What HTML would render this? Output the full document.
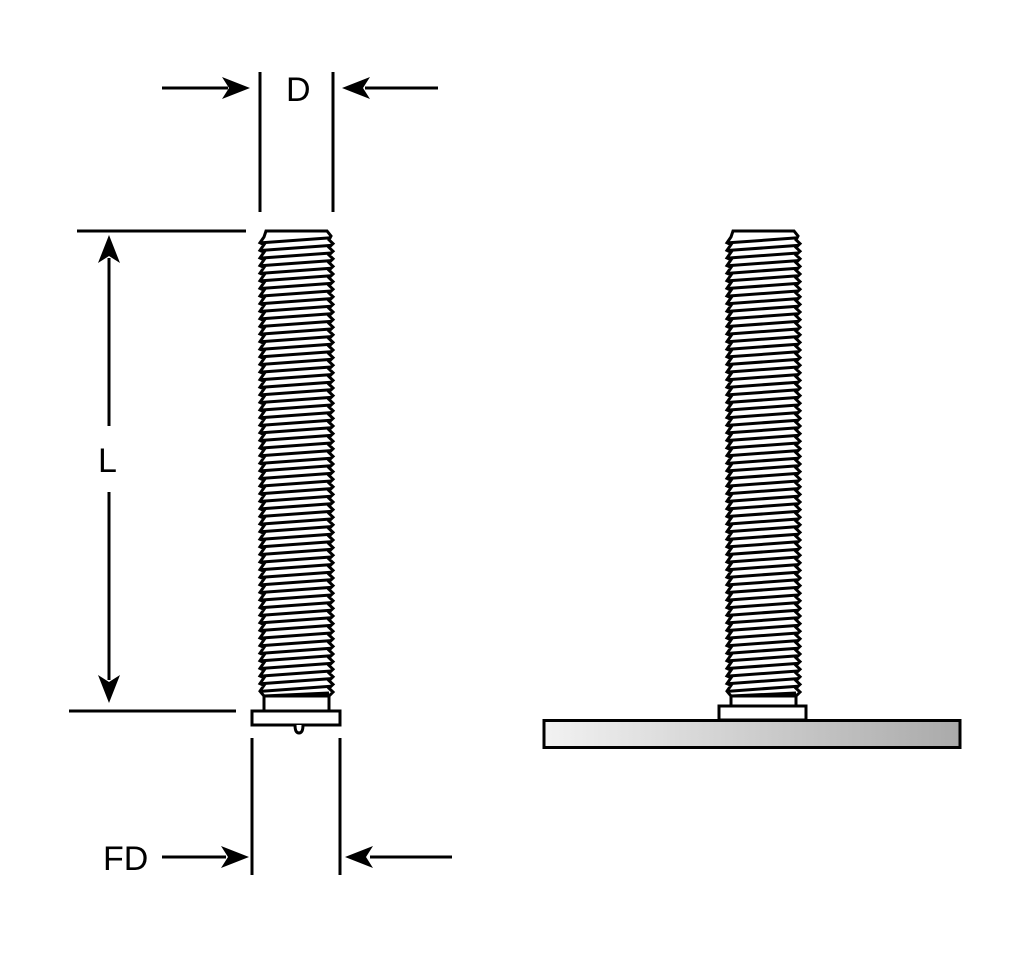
<!DOCTYPE html>
<html><head><meta charset="utf-8"><style>
html,body{margin:0;padding:0;background:#fff;width:1028px;height:964px;overflow:hidden}
svg{display:block}
text{font-family:"Liberation Sans",sans-serif;font-size:34px;fill:#000}
</style></head><body>
<svg id="s" width="1028" height="964" viewBox="0 0 1028 964" xmlns="http://www.w3.org/2000/svg">
<defs>
<linearGradient id="g" x1="0" x2="1" y1="0" y2="0"><stop offset="0" stop-color="#f2f2f2"/><stop offset="1" stop-color="#aaaaaa"/></linearGradient>
</defs>
<g stroke="#000" stroke-width="3" fill="none">
<!-- D dimension -->
<line x1="260" y1="72" x2="260" y2="212"/>
<line x1="333" y1="72" x2="333" y2="212"/>
<line x1="162" y1="88" x2="228" y2="88"/>
<line x1="365" y1="88" x2="438" y2="88"/>
<!-- L dimension -->
<line x1="77" y1="231" x2="246" y2="231"/>
<line x1="69" y1="711" x2="236" y2="711"/>
<line x1="109" y1="258" x2="109" y2="426"/>
<line x1="109" y1="492" x2="109" y2="680"/>
<!-- FD -->
<line x1="252" y1="738" x2="252" y2="875"/>
<line x1="340" y1="738" x2="340" y2="875"/>
<line x1="162" y1="857" x2="226" y2="857"/>
<line x1="370" y1="857" x2="452" y2="857"/>
</g>
<g fill="#000">
<path d="M250,88 L222,77 L229,88 L222,99 Z"/>
<path d="M342,88 L370,77 L363,88 L370,99 Z"/>
<path d="M109,235 L98,263 L109,256 L120,263 Z"/>
<path d="M109,703 L98,675 L109,682 L120,675 Z"/>
<path d="M249,857 L221,846 L228,857 L221,868 Z"/>
<path d="M345,857 L373,846 L366,857 L373,868 Z"/>
</g>
<text x="286" y="101">D</text>
<text x="98" y="472">L</text>
<text x="103" y="870">FD</text>
<!-- plate -->
<rect x="544" y="720.5" width="416" height="27" fill="url(#g)" stroke="#000" stroke-width="3"/>
<g id="bolts" stroke="#000" stroke-width="3" fill="#fff"></g>
</svg>
<script>
function bolt(xl,xr,top,thrEnd,shankEnd,fx1,fx2,fy2,tip){
  var g=document.getElementById('bolts'),s='';
  var p=7.6,n=Math.floor((thrEnd-top-6)/p);
  // shank and flange
  s+='<rect x="'+(xl+4)+'" y="'+(thrEnd-4)+'" width="'+(xr-xl-8)+'" height="'+(shankEnd-thrEnd+4)+'"/>';
  s+='<rect x="'+fx1+'" y="'+shankEnd+'" width="'+(fx2-fx1)+'" height="'+(fy2-shankEnd)+'"/>';
  if(tip) s+='<path d="M'+(tip-4)+','+fy2+' Q'+(tip-4)+','+(fy2+8)+' '+tip+','+(fy2+8)+' Q'+(tip+4)+','+(fy2+8)+' '+(tip+4)+','+fy2+'" />';
  // thread outline
  var L='M'+(xl+6)+','+top+' L'+(xr-6)+','+top+' L'+(xr-2)+','+(top+5);
  for(var i=0;i<n;i++){var y=top+6+i*p;L+=' L'+(xr-4)+','+(y+p/2-1)+' L'+(xr)+','+(y+p-1);}
  L+=' L'+(xr-4)+','+thrEnd+' L'+(xl+4)+','+thrEnd;
  for(var i=n-1;i>=0;i--){var y=top+6+i*p;L+=' L'+(xl)+','+(y+p/2+2)+' L'+(xl+4)+','+(y);}
  L+=' Z';
  s+='<path d="'+L+'" fill="#fff"/>';
  var l='';
  for(var i=0;i<n;i++){var y=top+6+i*p;l+='M'+(xl+2)+','+(y+p/2+2)+' L'+(xr-2)+','+(y+p/2-3)+' ';}
  s+='<path d="'+l+'" fill="none"/>';
  s+='<path d="M'+(xl+4)+','+(thrEnd)+' L'+(xr-4)+','+(thrEnd-3)+'" fill="none"/>';
  g.innerHTML+=s;
}
bolt(260,333,231,696,711,252,340,725,299);
bolt(727,800,231,696,706,719,806,720,0);
</script>
</body></html>
